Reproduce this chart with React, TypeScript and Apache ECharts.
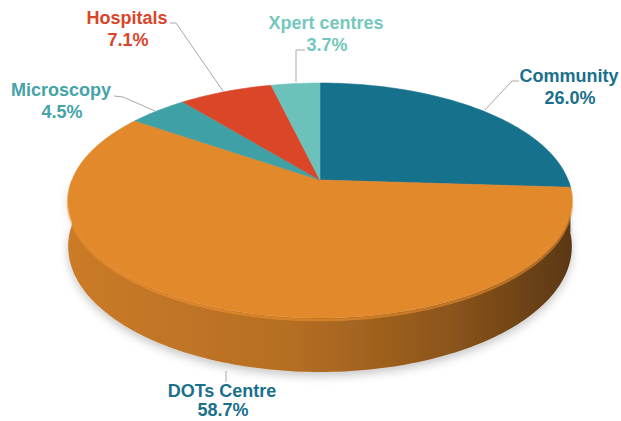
import { useEffect, useRef } from "react";
import * as echarts from "echarts";

// ---- data ----
const categories = ["Community", "DOTs Centre", "Microscopy", "Hospitals", "Xpert centres"];
const shares = [26.0, 58.7, 4.5, 7.1, 3.7];
const shareLabels = ["26.0%", "58.7%", "4.5%", "7.1%", "3.7%"];

// ---- styles ----
const sliceColors = ["#16718C", "#E2892C", "#3FA0A6", "#DB4629", "#6CC2BB"];
const labelColors = ["#1A6F8B", "#1A6F8B", "#45A3A9", "#D9452B", "#74C7BE"];

// ---- layout (label anchors: [x, line1 y, line2 y] and leader lines) ----
const labelPos = [
  [569, 76, 98],
  [222, 391, 410],
  [61, 90, 112],
  [127, 18, 40],
  [326, 23, 45],
];
const leaderLines = [
  [[519, 81], [512, 81], [485, 110]],
  [[226, 371], [226, 382]],
  [[114, 96], [123, 97], [155, 111]],
  [[170, 23], [176, 23], [223, 91]],
  [[305, 50], [296, 50], [296, 82]],
];

// projection parameters (perspective 3D pie)
const CX = 320;
const CY = 180;
const AX = 248;
const BY = 113.9;
const PERS = 0.1745;
const DEPTH = 44.6;

function proj(frac: number, depth: number): number[] {
  const phi = frac * Math.PI * 2;
  const u = Math.sin(phi);
  const v = -Math.cos(phi);
  const d = 1 - PERS * v;
  return [CX + (AX * u) / d, CY + (BY * v) / d + (depth * DEPTH) / d];
}

function shade(hex: string, k: number): string {
  const n = parseInt(hex.slice(1), 16);
  const r = Math.round(((n >> 16) & 255) * k);
  const g = Math.round(((n >> 8) & 255) * k);
  const b = Math.round((n & 255) * k);
  const c = (x: number) => Math.max(0, Math.min(255, x)).toString(16).padStart(2, "0");
  return "#" + c(r) + c(g) + c(b);
}

export default function App() {
  const ref = useRef<HTMLDivElement>(null);
  useEffect(() => {
    if (!ref.current) return;
    const chart = echarts.init(ref.current, undefined, { renderer: "svg" });
    const total = shares.reduce((a, b) => a + b, 0);
    let acc = 0;
    const data = shares.map((v, i) => {
      const s = acc / total;
      acc += v;
      return { name: categories[i], value: [v, s, acc / total] };
    });

    const sideItem = (params: any, api: any) => {
      const s = Math.max(api.value(1), 0.25);
      const e = Math.min(api.value(2), 0.75);
      if (e <= s) return null;
      const n = Math.max(2, Math.ceil((e - s) * 300));
      const topPts: number[][] = [];
      const botPts: number[][] = [];
      for (let i = 0; i <= n; i++) {
        const f = s + ((e - s) * i) / n;
        topPts.push(proj(f, 0));
        botPts.push(proj(f, 1));
      }
      const col = sliceColors[params.dataIndex];
      const grad = new echarts.graphic.LinearGradient(
        CX - 255, 0, CX + 255, 0,
        [
          { offset: 0, color: shade(col, 0.9) },
          { offset: 0.45, color: shade(col, 0.8) },
          { offset: 0.75, color: shade(col, 0.62) },
          { offset: 1, color: shade(col, 0.4) },
        ],
        true
      );
      return {
        type: "group",
        children: [
          {
            type: "polygon",
            shape: { points: topPts.concat(botPts.slice().reverse()) },
            style: {
              fill: grad,
              shadowBlur: 10,
              shadowColor: "rgba(0,0,0,0.22)",
              shadowOffsetY: 4,
            },
          },
          {
            type: "polyline",
            shape: { points: topPts.map((p) => [p[0], p[1] + 2]) },
            style: { stroke: shade(col, 1.08), lineWidth: 2.5, opacity: 0.55, fill: null },
          },
        ],
      };
    };

    const topItem = (params: any, api: any) => {
      const s = api.value(1);
      const e = api.value(2);
      const n = Math.max(2, Math.ceil((e - s) * 300));
      const pts: number[][] = [[CX, CY]];
      for (let i = 0; i <= n; i++) pts.push(proj(s + ((e - s) * i) / n, 0));
      const col = sliceColors[params.dataIndex];
      return {
        type: "polygon",
        shape: { points: pts },
        style: { fill: col, stroke: col, lineWidth: 0.6 },
      };
    };

    const font = 'bold 18px "Liberation Sans", Arial, sans-serif';
    const graphics: any[] = [];
    leaderLines.forEach((pts) => {
      graphics.push({
        type: "polyline",
        shape: { points: pts },
        style: { stroke: "#A9A9A9", lineWidth: 1, fill: null },
        z: 10,
      });
    });
    categories.forEach((c, i) => {
      const [x, y1, y2] = labelPos[i];
      graphics.push({
        type: "text",
        x,
        y: y1,
        style: { text: c, font, fill: labelColors[i], align: "center", verticalAlign: "middle" },
        z: 11,
      });
      graphics.push({
        type: "text",
        x: x + 1,
        y: y2,
        style: { text: shareLabels[i], font, fill: labelColors[i], align: "center", verticalAlign: "middle" },
        z: 11,
      });
    });

    chart.setOption({
      animation: false,
      backgroundColor: "#ffffff",
      series: [
        {
          type: "custom",
          coordinateSystem: "none",
          renderItem: sideItem,
          data,
          z: 1,
          silent: true,
        },
        {
          type: "custom",
          coordinateSystem: "none",
          renderItem: topItem,
          data,
          z: 2,
          silent: true,
        },
      ],
      graphic: graphics,
    });
    return () => chart.dispose();
  }, []);
  return (
    <div
      ref={ref}
      style={{ position: "fixed", left: 0, top: 0, width: 621, height: 421, background: "#fff" }}
    />
  );
}
